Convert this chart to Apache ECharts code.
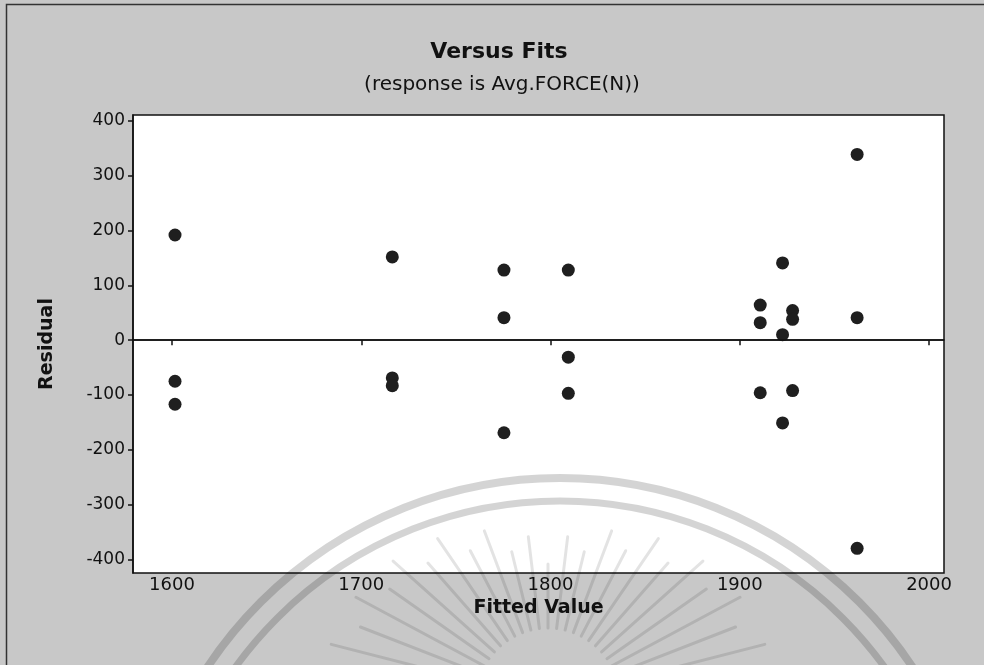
<!DOCTYPE html>
<html>
<head>
<meta charset="utf-8">
<title>Versus Fits</title>
<script src="https://cdn.jsdelivr.net/npm/echarts@6/dist/echarts.min.js"></script>
<style>
  html, body { margin: 0; padding: 0; background: #c8c8c8; }
  #chart { width: 984px; height: 665px; }
</style>
</head>
<body>
<div id="chart"></div>
<script>
// Fitted values and residuals (three replicates per fitted level)
const fitted = [
  1601.6, 1601.6, 1601.6,
  1716.4, 1716.4, 1716.4,
  1775.4, 1775.4, 1775.4,
  1809.4, 1809.4, 1809.4,
  1910.8, 1910.8, 1910.8,
  1922.6, 1922.6, 1922.6,
  1927.9, 1927.9, 1927.9,
  1962.0, 1962.0, 1962.0
];
const residual = [
  192, -75, -117,
  152, -69, -83,
  128, 41, -169,
  128, -31, -97,
  64, 32, -96,
  141, 10, -151,
  54, 38, -92,
  339, 41, -380
];

// Axis tick labels
const xTicks = [1600, 1700, 1800, 1900, 2000];
const yTicks = [-400, -300, -200, -100, 0, 100, 200, 300, 400];

const titleText = 'Versus Fits';
const subtitleText = '(response is Avg.FORCE(N))';
const xName = 'Fitted Value';
const yName = 'Residual';

const points = fitted.map((f, i) => [f, residual[i]]);

const FONT = 'DejaVu Sans';
const chart = echarts.init(document.getElementById('chart'), null, { renderer: 'canvas' });

// Faint seal watermark: two arcs and a burst of rays
const wmArc = 'rgba(0,0,0,0.17)';
const wmRay = 'rgba(0,0,0,0.11)';
const rays = [];
const rcx = 548, rcy = 700;
for (let k = 0; k < 23; k++) {
  const a = Math.PI * (1.08 + 0.84 * k / 22);
  const side = Math.abs(Math.cos(a));
  const r0 = 72;
  const r1 = (k % 2 === 0 ? 156 : 136) + 70 * side;
  rays.push({
    type: 'line',
    silent: true,
    z: 100,
    shape: {
      x1: rcx + r0 * Math.cos(a), y1: rcy + r0 * Math.sin(a),
      x2: rcx + r1 * Math.cos(a), y2: rcy + r1 * Math.sin(a)
    },
    style: { stroke: wmRay, lineWidth: 3, lineCap: 'round' }
  });
}

const plainNumber = v => String(v);

chart.setOption({
  backgroundColor: '#c8c8c8',
  animation: false,
  title: [
    {
      text: titleText,
      left: 494, top: 36, textAlign: 'center',
      textStyle: { fontFamily: FONT, fontWeight: 'bold', fontSize: 22, color: '#111' }
    },
    {
      text: subtitleText,
      left: 497, top: 70, textAlign: 'center',
      textStyle: { fontFamily: FONT, fontWeight: 'normal', fontSize: 20, color: '#111' }
    }
  ],
  grid: {
    left: 133, right: 40, top: 115, bottom: 92,
    show: true, backgroundColor: '#ffffff',
    borderColor: '#111', borderWidth: 1.5
  },
  xAxis: {
    type: 'value',
    min: 1579.4, max: 2007.9,
    name: xName, nameLocation: 'middle', nameGap: 22,
    nameTextStyle: { fontFamily: FONT, fontWeight: 'bold', fontSize: 19, color: '#111' },
    axisLine: { show: true, lineStyle: { color: '#111', width: 1.5 } },
    axisTick: { show: true, length: 5, customValues: xTicks, lineStyle: { color: '#111', width: 1.5 } },
    axisLabel: { customValues: xTicks, formatter: plainNumber, fontFamily: FONT, fontSize: 18, color: '#111', margin: 3 },
    splitLine: { show: false }
  },
  yAxis: {
    type: 'value',
    min: -425, max: 411,
    name: yName, nameLocation: 'middle', nameGap: 76, nameRotate: 90,
    nameTextStyle: { fontFamily: FONT, fontWeight: 'bold', fontSize: 19, color: '#111' },
    axisLine: { show: true, lineStyle: { color: '#111', width: 1.5 } },
    axisTick: { show: true, length: 5, customValues: yTicks, lineStyle: { color: '#111', width: 1.5 } },
    axisLabel: { customValues: yTicks, formatter: plainNumber, fontFamily: FONT, fontSize: 17, color: '#111', margin: 8 },
    splitLine: { show: false }
  },
  series: [{
    type: 'scatter',
    data: points,
    symbol: 'circle',
    symbolSize: 13,
    itemStyle: { color: '#1f1f1f', opacity: 1 },
    markLine: {
      silent: true,
      symbol: ['none', 'none'],
      label: { show: false },
      lineStyle: { color: '#111', width: 1.5, type: 'solid' },
      data: [{ yAxis: 0 }]
    }
  }],
  graphic: [
    {
      type: 'polyline', silent: true, z: 101,
      shape: { points: [[6.5, 665], [6.5, 4.5], [984, 4.5]] },
      style: { stroke: '#333', lineWidth: 1.5, fill: null }
    },
    {
      type: 'circle', silent: true, z: 100,
      shape: { cx: 560, cy: 901, r: 423 },
      style: { stroke: wmArc, lineWidth: 8, fill: null }
    },
    {
      type: 'circle', silent: true, z: 100,
      shape: { cx: 560, cy: 901, r: 400 },
      style: { stroke: wmArc, lineWidth: 7, fill: null }
    }
  ].concat(rays)
});
</script>
</body>
</html>
